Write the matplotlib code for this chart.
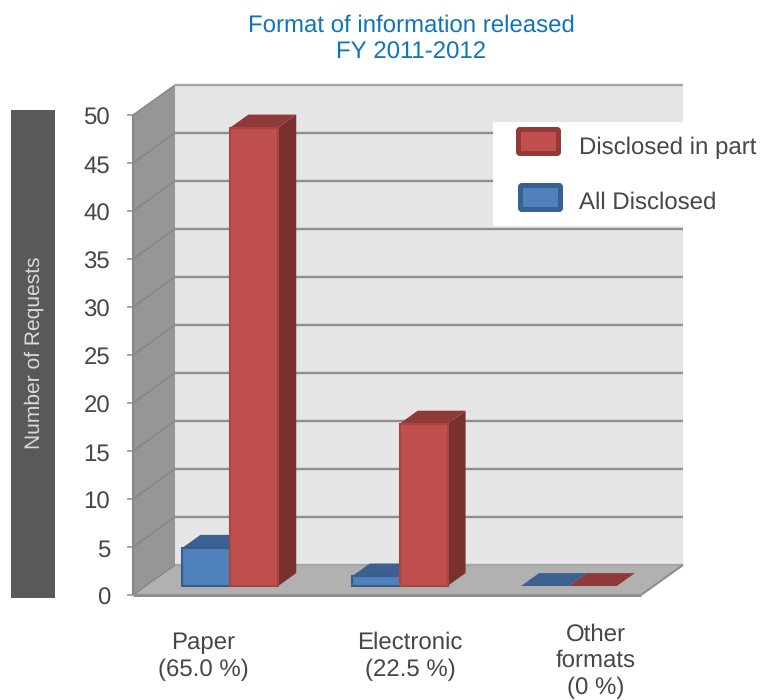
import matplotlib
matplotlib.use("Agg")
import matplotlib.pyplot as plt
from matplotlib.patches import Polygon, Rectangle, FancyBboxPatch
from matplotlib.transforms import ScaledTranslation

plt.rcParams['font.family'] = ['Liberation Sans', 'DejaVu Sans']
plt.rcParams['text.hinting'] = 'none'
plt.rcParams['text.hinting_factor'] = 1

# Data
title_lines = ["Format of information released", "FY 2011-2012"]
y_title = "Number of Requests"
categories = ["Paper\n(65.0 %)", "Electronic\n(22.5 %)", "Other\nformats\n(0 %)"]
all_disclosed = [4, 1, 0]
disclosed_in_part = [48, 17, 0]
y_ticks = [0, 5, 10, 15, 20, 25, 30, 35, 40, 45, 50]
legend_labels = ["Disclosed in part", "All Disclosed"]

# Styling
TEXT = "#474747"
TITLE = "#0f74ba"
GRID = "#8e8e8e"
GRID_SOFT = "#a6a6a6"
WALL_BACK = "#e6e6e6"
WALL_SIDE = "#969696"
FLOOR = "#b1b1b1"
RED = dict(front="#c0504d", top="#8f3a38", side="#7a302e", edge="#a8453f", key="#953a38")
BLUE = dict(front="#4f81bd", top="#3c6090", side="#33527a", edge="#385d8a", key="#386090")

W, H = 760, 700
fig = plt.figure(figsize=(W / 100, H / 100), dpi=100, facecolor="white")

# Front plane of the box: x spans the three categories, y spans the value axis
ax = fig.add_axes([133 / W, (H - 595) / H, 508 / W, 480 / H])
ax.set_xlim(0, 3)
ax.set_ylim(0, 50)
ax.patch.set_visible(False)
for s in ax.spines.values():
    s.set_visible(False)

# Oblique projection: one unit of depth moves 42 px right and 30 px up
PX_X = 508 / 3
PX_Y = 480 / 50
DX, DY = 42 / PX_X, 30 / PX_Y


def project(x, y, d=0.0):
    return (x + d * DX, y + d * DY)


def face(points, color, edge=None, lw=0, z=2):
    ax.add_patch(Polygon([project(*p) for p in points], closed=True, facecolor=color,
                         edgecolor=edge if edge else color, linewidth=lw,
                         clip_on=False, zorder=z, joinstyle="miter"))


def line(points, color=GRID, lw=1.7, z=2):
    xs, ys = zip(*[project(*p) for p in points])
    ax.plot(xs, ys, color=color, lw=lw, clip_on=False, zorder=z, solid_capstyle="butt")


# Box walls and floor
face([(0, 0, 1), (3, 0, 1), (3, 50, 1), (0, 50, 1)], WALL_BACK, z=1)
face([(0, 0, 0), (0, 0, 1), (0, 50, 1), (0, 50, 0)], WALL_SIDE, z=1)
face([(0, 0, 0), (3, 0, 0), (3, 0, 1), (0, 0, 1)], FLOOR, z=1)

# Grid lines on the back and side walls; the top and floor lines are softer
for t in y_ticks:
    soft = t in (y_ticks[0], y_ticks[-1])
    line([(0, t, 1), (3, t, 1)], color=GRID_SOFT if soft else GRID, z=1.5)
    line([(0, t, 0), (0, t, 1)], color="#858585", lw=1.0, z=1.5)
line([(0, 0, 0), (3, 0, 0)], lw=2.2, z=1.6)
line([(3, 0, 0), (3, 0, 1)], lw=1.5, z=1.6)
line([(0, 0, 0), (0, 50, 0)], color="#8a8a8a", lw=1.5, z=1.6)

# Bars sit inside the box, a little behind the front plane
D0, D1 = 0.30, 0.73
BAR_W = 0.283
PLANE_SCALE = 0.995


def bar3d(x0, value, c, z):
    x1 = x0 + BAR_W
    h = value * PLANE_SCALE
    if value == 0:
        face([(x0, 0, D0), (x1, 0, D0), (x1, 0, D1), (x0, 0, D1)], c["top"], z=z)
        return
    face([(x1, 0, D0), (x1, 0, D1), (x1, h, D1), (x1, h, D0)], c["side"], z=z)
    face([(x0, h, D0), (x1, h, D0), (x1, h, D1), (x0, h, D1)], c["top"], z=z)
    face([(x0, 0, D0), (x1, 0, D0), (x1, h, D0), (x0, h, D0)], c["front"],
         edge=c["edge"], lw=1.5, z=z + 0.1)


for i, (a, b) in enumerate(zip(all_disclosed, disclosed_in_part)):
    centre = i + 0.5
    bar3d(centre - BAR_W, a, BLUE, 3 + i)
    bar3d(centre, b, RED, 3.3 + i)

# Value axis; labels sit one pixel below their ticks
ax.set_xticks([])
ax.set_yticks(y_ticks)
ax.tick_params(axis="y", length=4.5, width=1.1, color=GRID, pad=12, labelsize=17, labelcolor=TEXT)
nudge = ScaledTranslation(0, -1 / 100, fig.dpi_scale_trans)
for lbl in ax.get_yticklabels():
    lbl.set_transform(lbl.get_transform() + nudge)

# Layout layer in pixel coordinates for the title, side band, labels and legend
ov = fig.add_axes([0, 0, 1, 1], zorder=10)
ov.set_xlim(0, W)
ov.set_ylim(H, 0)
ov.axis("off")

ov.text(411, 26, title_lines[0], color=TITLE, fontsize=17, ha="center", va="center")
ov.text(411, 53, title_lines[1], color=TITLE, fontsize=17, ha="center", va="center")

ov.add_patch(Rectangle((11, 110), 44, 488, facecolor="#595959", edgecolor="none"))
ov.text(34, 353, y_title, color="#d9d9d9", fontsize=15, rotation=90, ha="center", va="center")

label_pos = [(203, 656.5), (410, 656.5), (596, 661)]
label_spacing = [1.3, 1.3, 1.26]
for label, (px, py), sp in zip(categories, label_pos, label_spacing):
    ov.text(px, py, label, color=TEXT, fontsize=17, ha="center", va="center", linespacing=sp)

# Legend
ov.add_patch(Rectangle((493, 122), 190, 104, facecolor="white", edgecolor="none"))
swatches = [(518.5, 129.5, RED), (520.5, 185.5, BLUE)]
for label, (sx, sy, c), ty in zip(legend_labels, swatches, (148, 203)):
    ov.add_patch(FancyBboxPatch((sx, sy), 40, 24, boxstyle="round,pad=0,rounding_size=1.5",
                                facecolor=c["front"], edgecolor=c["key"], linewidth=3.6))
    ov.text(579, ty, label, color=TEXT, fontsize=17, ha="left", va="center")

fig.savefig("out.png", dpi=100, facecolor="white")
